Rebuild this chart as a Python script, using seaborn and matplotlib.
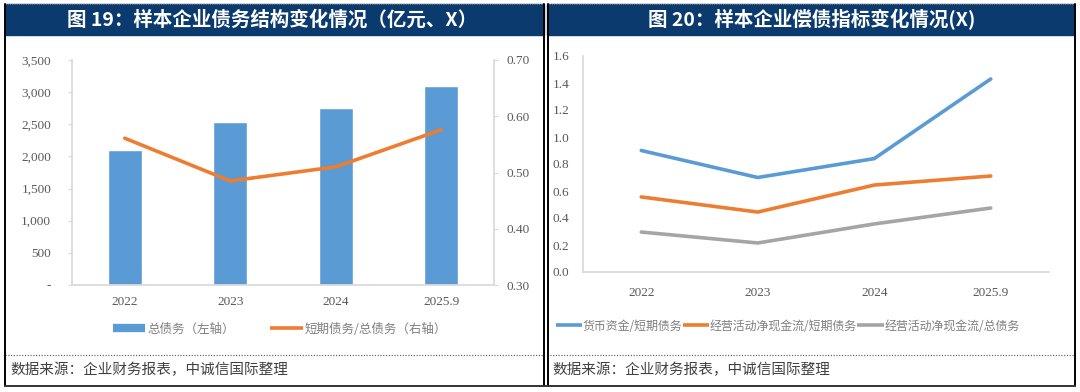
import matplotlib
matplotlib.use("Agg")
import matplotlib.pyplot as plt
import seaborn as sns
import numpy as np
import pandas as pd
from matplotlib.lines import Line2D
from matplotlib.patches import Rectangle

# ---------------- data ----------------
years = ["2022", "2023", "2024", "2025.9"]
total_debt = [2100, 2530, 2760, 3090]               # 总债务（左轴）
short_ratio = [0.561, 0.485, 0.510, 0.576]          # 短期债务/总债务（右轴）

cash_short = [0.90, 0.70, 0.84, 1.43]               # 货币资金/短期债务
ocf_short = [0.556, 0.444, 0.644, 0.711]            # 经营活动净现金流/短期债务
ocf_total = [0.296, 0.215, 0.356, 0.474]            # 经营活动净现金流/总债务

title_left = "图 19：样本企业债务结构变化情况（亿元、X）"
title_right = "图 20：样本企业偿债指标变化情况(X)"
source = "数据来源：企业财务报表，中诚信国际整理"
leg_left = ["总债务（左轴）", "短期债务/总债务（右轴）"]
leg_right = ["货币资金/短期债务", "经营活动净现金流/短期债务", "经营活动净现金流/总债务"]

# ---------------- style ----------------
sns.set_theme(style="white")
plt.rcParams["font.family"] = ["Liberation Serif", "Noto Sans CJK SC", "DejaVu Sans"]
CJK = ["Noto Sans CJK SC", "DejaVu Sans"]
BLUE, ORANGE, GRAY = "#5B9BD5", "#ED7D31", "#A5A5A5"
NAVY = "#0B3A6E"
SPINE = "#D9D9D9"
TICKC = "#595959"

fig = plt.figure(figsize=(10.8, 3.92), dpi=100)

def fx(px):
    return px / 1080

def fy(py):
    return 1 - py / 392

# ---------------- frames ----------------
for (x0, x1) in [(5, 544), (547, 1074)]:
    fig.patches.append(Rectangle((fx(x0), fy(35)), fx(x1 - x0), 31 / 392,
                                 transform=fig.transFigure, color=NAVY, zorder=0))
    fig.add_artist(Line2D([fx(x0), fx(x1)], [fy(355), fy(355)], transform=fig.transFigure,
                          color="#555555", lw=0.8, ls=(0, (1, 1.5))))
    fig.add_artist(Line2D([fx(x0), fx(x1)], [fy(4), fy(4)], transform=fig.transFigure,
                          color="#777777", lw=0.8, ls=(0, (1, 1))))
for x in [4.5, 544, 547.5, 1074.5]:
    fig.add_artist(Line2D([fx(x), fx(x)], [fy(4), fy(386)], transform=fig.transFigure,
                          color="black", lw=1.4))
fig.add_artist(Line2D([fx(4.5), fx(1074.5)], [fy(386), fy(386)], transform=fig.transFigure,
                      color="#333333", lw=1.4))

fig.text(fx(272), fy(20), title_left, color="white", fontsize=14, fontweight="bold",
         ha="center", va="center", family=CJK)
fig.text(fx(812), fy(20), title_right, color="white", fontsize=14, fontweight="bold",
         ha="center", va="center", family=CJK)
fig.text(fx(10), fy(370), source, color="#404040", fontsize=10.5, style="italic",
         ha="left", va="center", family=CJK)
fig.text(fx(552), fy(370), source, color="#404040", fontsize=10.5, style="italic",
         ha="left", va="center", family=CJK)

# ---------------- left chart ----------------
df_left = pd.DataFrame({"year": years, "pos": np.arange(len(years)),
                        "debt": total_debt, "ratio": short_ratio})
axL = fig.add_axes([fx(72), fy(285), fx(422), 225 / 392])
sns.barplot(data=df_left, x="pos", y="debt", ax=axL, color=BLUE, width=0.32,
            saturation=1, native_scale=True)
axL.set_xlim(-0.5, len(years) - 0.5)
axL.set_ylim(0, 3500)
axL.set_yticks(np.arange(0, 3501, 500))
axL.set_yticklabels(["-"] + [f"{v:,}" for v in range(500, 3501, 500)])
axL.set_xticks(df_left["pos"])
axL.set_xticklabels(years)
axL.set_xlabel("")
axL.set_ylabel("")

axR = axL.twinx()
sns.lineplot(data=df_left, x="pos", y="ratio", ax=axR, color=ORANGE, lw=2.6)
axR.set_ylim(0.30, 0.70)
axR.set_yticks(np.arange(0.30, 0.701, 0.10))
axR.set_yticklabels([f"{v:.2f}" for v in np.arange(0.30, 0.701, 0.10)])
axR.set_ylabel("")
axR.set_xlabel("")

for ax in (axL, axR):
    for s in ax.spines.values():
        s.set_visible(False)
    ax.tick_params(colors=TICKC, labelsize=9.5, length=3, color=SPINE, width=0.8)
axL.spines["left"].set_visible(True)
axL.spines["left"].set_color(SPINE)
axL.spines["bottom"].set_visible(True)
axL.spines["bottom"].set_color(SPINE)
axR.spines["right"].set_visible(True)
axR.spines["right"].set_color(SPINE)
axL.tick_params(axis="x", length=0, pad=8)
axL.tick_params(axis="y", pad=12)
axR.tick_params(axis="y", pad=6)

handles = [Line2D([], [], color=BLUE, lw=6, solid_capstyle="butt"),
           Line2D([], [], color=ORANGE, lw=2.6, solid_capstyle="butt")]
fig.legend(handles, leg_left, loc="center", bbox_to_anchor=(fx(280), fy(329)), ncol=2,
           frameon=False, prop={"family": CJK, "size": 9}, labelcolor="#7F7F7F",
           handlelength=2.6, handletextpad=0.2, columnspacing=2.8)

# ---------------- right chart ----------------
df_right = pd.DataFrame({
    "pos": np.tile(np.arange(len(years)), 3),
    "value": cash_short + ocf_short + ocf_total,
    "series": np.repeat(leg_right, len(years)),
})
ax2 = fig.add_axes([fx(583), fy(272), fx(466), 216 / 392])
sns.lineplot(data=df_right, x="pos", y="value", hue="series", hue_order=leg_right,
             palette=[BLUE, ORANGE, GRAY], ax=ax2, lw=2.6, legend=False)
ax2.set_xlim(-0.5, len(years) - 0.5)
ax2.set_ylim(0, 1.6)
ax2.set_yticks(np.arange(0, 1.61, 0.2))
ax2.set_yticklabels([f"{v:.1f}" for v in np.arange(0, 1.61, 0.2)])
ax2.set_xticks(np.arange(len(years)))
ax2.set_xticklabels(years)
ax2.set_xlabel("")
ax2.set_ylabel("")
for s in ax2.spines.values():
    s.set_visible(False)
for s in ("left", "bottom"):
    ax2.spines[s].set_visible(True)
    ax2.spines[s].set_color(SPINE)
ax2.tick_params(colors=TICKC, labelsize=9.5, length=3, color=SPINE, width=0.8)
ax2.tick_params(axis="x", pad=8)
ax2.tick_params(axis="y", pad=7)

handles2 = [Line2D([], [], color=c, lw=2.6, solid_capstyle="butt") for c in (BLUE, ORANGE, GRAY)]
fig.legend(handles2, leg_right, loc="center left", bbox_to_anchor=(fx(545), fy(326)), ncol=3,
           frameon=False, prop={"family": CJK, "size": 8.6}, labelcolor="#7F7F7F",
           handlelength=2.2, handletextpad=0.05, columnspacing=0.05)

fig.savefig("out.png", dpi=100, facecolor="white")
